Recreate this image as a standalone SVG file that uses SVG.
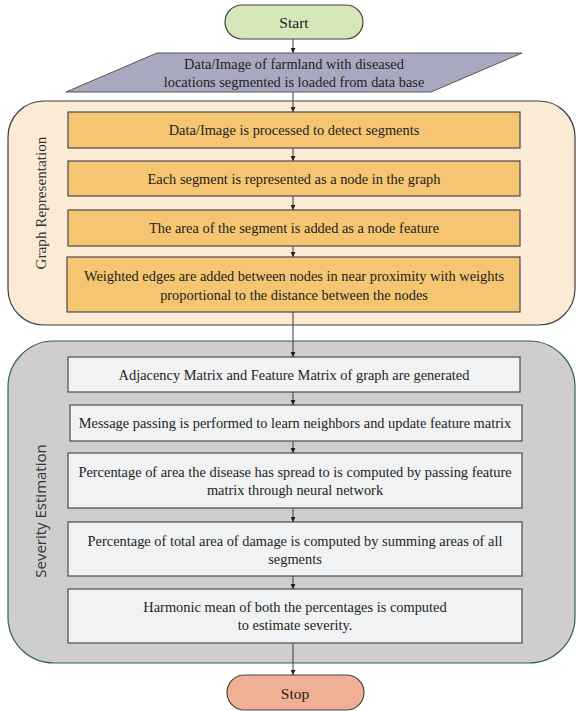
<svg xmlns="http://www.w3.org/2000/svg" width="576" height="711" viewBox="0 0 576 711">
<style>
.t{font-family:"Liberation Serif","Times New Roman",serif;font-size:14.4px;fill:#231f20;text-anchor:middle;dominant-baseline:central}
.ob{fill:#f6c571;stroke:#4a4a4a;stroke-width:1.2}
.gb{fill:#f1f2f4;stroke:#4a4a4a;stroke-width:1.2}
.c{stroke:#3a3a3a;stroke-width:1;fill:none}
</style>
<defs>
<marker id="ah" viewBox="0 0 6 6" refX="6" refY="3" markerWidth="5" markerHeight="5" orient="auto" markerUnits="userSpaceOnUse">
<path d="M0,0 L6,3 L0,6 Z" fill="#222"/>
</marker>
</defs>
<rect width="576" height="711" fill="#ffffff"/>
<g id="graph-representation">
<rect x="8" y="101" width="567" height="224" rx="36" ry="36" fill="#fcebd4" stroke="#3f3f3f" stroke-width="1.2"/>
<text class="t" x="40" y="203" transform="rotate(-90 40 203)" style="font-size:15.2px;fill:#333">Graph Representation</text>
</g>
<g id="severity-estimation">
<rect x="8" y="341" width="567" height="322" rx="46" ry="46" fill="#d0cecc" stroke="#2f6350" stroke-width="1.2"/>
<text class="t" x="40" y="511" transform="rotate(-90 40 511)" style="font-family:'Open Sans','Noto Sans',sans-serif;font-size:15px;fill:#333">Severity Estimation</text>
</g>
<g id="connectors">
<line class="c" x1="293" y1="39" x2="293" y2="53" marker-end="url(#ah)"/>
<line class="c" x1="293" y1="92" x2="293" y2="112" marker-end="url(#ah)"/>
<line class="c" x1="293" y1="148" x2="293" y2="161" marker-end="url(#ah)"/>
<line class="c" x1="293" y1="196" x2="293" y2="210" marker-end="url(#ah)"/>
<line class="c" x1="293" y1="246" x2="293" y2="257" marker-end="url(#ah)"/>
<line class="c" x1="293" y1="312" x2="293" y2="357" marker-end="url(#ah)"/>
<line class="c" x1="293" y1="392" x2="293" y2="405" marker-end="url(#ah)"/>
<line class="c" x1="293" y1="441" x2="293" y2="453" marker-end="url(#ah)"/>
<line class="c" x1="293" y1="508" x2="293" y2="522" marker-end="url(#ah)"/>
<line class="c" x1="293" y1="576" x2="293" y2="589" marker-end="url(#ah)"/>
<line class="c" x1="293" y1="643" x2="293" y2="675" marker-end="url(#ah)"/>
</g>
<g id="start">
<rect x="225" y="5" width="138" height="34" rx="17" ry="17" fill="#d5e8b9" stroke="#444" stroke-width="1.2"/>
<text class="t" x="294" y="22" style="font-size:15.5px">Start</text>
</g>
<g id="input">
<polygon points="157,53 522,53 431,92 66,92" fill="#a9a8c1" stroke="#555" stroke-width="1"/>
<text class="t" x="294" y="64">Data/Image of farmland with diseased</text>
<text class="t" x="294" y="82">locations segmented is loaded from data base</text>
</g>
<g id="detect-segments">
<rect class="ob" x="68" y="112" width="452" height="36"/>
<text class="t" x="294" y="130">Data/Image is processed to detect segments</text>
</g>
<g id="segment-node">
<rect class="ob" x="68" y="161" width="452" height="35"/>
<text class="t" x="294" y="179">Each segment is represented as a node in the graph</text>
</g>
<g id="node-feature">
<rect class="ob" x="68" y="210" width="452" height="36"/>
<text class="t" x="294" y="228">The area of the segment is added as a node feature</text>
</g>
<g id="weighted-edges">
<rect class="ob" x="67" y="257" width="453" height="55"/>
<text class="t" x="294" y="276">Weighted edges are added between nodes in near proximity with weights</text>
<text class="t" x="294" y="295">proportional to the distance between the nodes</text>
</g>
<g id="adjacency">
<rect class="gb" x="68" y="357" width="452" height="35"/>
<text class="t" x="294" y="375">Adjacency Matrix and Feature Matrix of graph are generated</text>
</g>
<g id="message-passing">
<rect class="gb" x="70" y="405" width="452" height="36"/>
<text class="t" x="295" y="423">Message passing is performed to learn neighbors and update feature matrix</text>
</g>
<g id="percentage-spread">
<rect class="gb" x="68" y="453" width="454" height="55"/>
<text class="t" x="295" y="472">Percentage of area the disease has spread to is computed by passing feature</text>
<text class="t" x="295" y="490">matrix through neural network</text>
</g>
<g id="percentage-damage">
<rect class="gb" x="68" y="522" width="454" height="54"/>
<text class="t" x="295" y="541">Percentage of total area of damage is computed by summing areas of all</text>
<text class="t" x="295" y="559">segments</text>
</g>
<g id="harmonic-mean">
<rect class="gb" x="68" y="589" width="454" height="54"/>
<text class="t" x="295" y="607">Harmonic mean of both the percentages is computed</text>
<text class="t" x="295" y="625">to estimate severity.</text>
</g>
<g id="stop">
<rect x="227" y="675" width="137" height="35" rx="17.5" ry="17.5" fill="#f1b094" stroke="#444" stroke-width="1.2"/>
<text class="t" x="295" y="693" style="font-size:15.5px">Stop</text>
</g>
</svg>
